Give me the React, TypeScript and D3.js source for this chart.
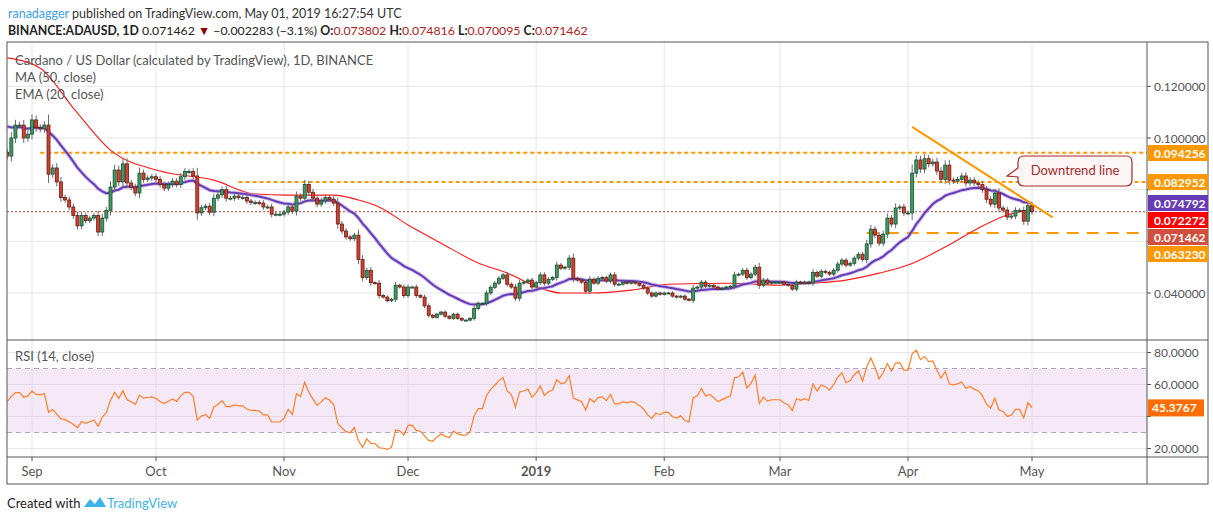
import React from "react";
import * as d3 from "d3";

const startDate = "2018-08-26";
const closes: number[] = [
  0.093, 0.100, 0.105, 0.105, 0.100, 0.1015, 0.107, 0.104, 0.1035, 0.105,
  0.086, 0.0884, 0.083, 0.077, 0.076, 0.0733, 0.070, 0.066, 0.070, 0.068,
  0.069, 0.070, 0.0636, 0.069, 0.072, 0.081, 0.0876, 0.083, 0.090, 0.0826,
  0.081, 0.0787, 0.0864, 0.084, 0.0845, 0.085, 0.084, 0.082, 0.0806, 0.082,
  0.0833, 0.082, 0.085, 0.087, 0.087, 0.0853, 0.071, 0.073, 0.0736, 0.0713,
  0.0767, 0.078, 0.080, 0.0767, 0.0767, 0.0775, 0.077, 0.077, 0.0756, 0.075,
  0.075, 0.0748, 0.0733, 0.0733, 0.0705, 0.0705, 0.0705, 0.0713, 0.0733, 0.0717,
  0.0775,
  0.0767, 0.082, 0.079, 0.0767, 0.0744, 0.0756, 0.077, 0.0763, 0.0748, 0.0667,
  0.064, 0.0617, 0.061, 0.0624, 0.053, 0.046, 0.0488, 0.044, 0.0438, 0.039,
  0.0384, 0.037, 0.0376, 0.043, 0.0423, 0.039, 0.0423, 0.0423, 0.039, 0.0384,
  0.035, 0.0314, 0.0306, 0.0318, 0.0326, 0.031, 0.0302, 0.0318, 0.0302, 0.0295,
  0.0295, 0.0302, 0.034, 0.036, 0.036, 0.040, 0.0422, 0.0438, 0.0457, 0.047,
  0.0434, 0.0423, 0.038, 0.0438, 0.0442, 0.045, 0.0423, 0.044, 0.047, 0.0438,
  0.0453, 0.046, 0.0508, 0.0496, 0.050, 0.0535, 0.0457, 0.045, 0.0442, 0.0407,
  0.0453,
  0.0438, 0.0457, 0.046, 0.0446, 0.047, 0.0434, 0.0434, 0.0442, 0.0438, 0.0442,
  0.0438, 0.043, 0.0419, 0.040, 0.0388, 0.040, 0.0395, 0.040, 0.040, 0.0388,
  0.0384, 0.0388, 0.0376, 0.0372, 0.0419, 0.0423, 0.0442, 0.0426, 0.043, 0.0423,
  0.0415, 0.0419, 0.0423, 0.0426, 0.047, 0.0473, 0.0488, 0.046, 0.0473, 0.050,
  0.043, 0.045, 0.0438, 0.0442, 0.0442, 0.0442, 0.0434, 0.043, 0.0415, 0.0442,
  0.0438, 0.0442, 0.0438, 0.048, 0.0465, 0.0484, 0.048, 0.0473, 0.0488, 0.0512,
  0.0527, 0.0508, 0.0515, 0.0535, 0.055, 0.053, 0.059, 0.0647, 0.0624, 0.0593,
  0.0628,
  0.069, 0.0667, 0.0729, 0.0733, 0.071, 0.071, 0.0864, 0.0915, 0.088, 0.092,
  0.090, 0.0907, 0.0872, 0.084, 0.0895, 0.0837, 0.0833, 0.084, 0.0853, 0.0826,
  0.0837, 0.0826, 0.082, 0.080, 0.0763, 0.0744, 0.0787, 0.0729, 0.0721, 0.0694,
  0.0698, 0.072, 0.072, 0.0678, 0.0738, 0.071462,
];
const firstOpen = 0.0945;

// MA(50) line samples: [candle index, value]
const maIdx = [0, 8, 16, 25, 37, 50, 60, 68, 79, 85, 90, 97, 105, 114, 121, 129, 134, 141, 151, 160, 175, 187, 195, 203, 211, 218, 227, 235, 242, 248];
const maVal = [0.131, 0.127, 0.1116, 0.0953, 0.0872, 0.0837, 0.0783, 0.0779, 0.0779, 0.076, 0.0733, 0.0663, 0.0593, 0.0516, 0.0477, 0.0419, 0.040, 0.040, 0.0411, 0.0434, 0.0438, 0.043, 0.0438, 0.045, 0.0477, 0.0508, 0.0578, 0.0651, 0.0702, 0.0723];

const levelValues = [0.094256, 0.082952];
const levelStartIdx = [8, 56];
const supportValue = 0.06323;
const supportStartIdx = 208;
const trendIdx = [219, 253];
const trendVal = [0.1043, 0.0693];

const priceTicks = [0.04, 0.06, 0.08, 0.1, 0.12];
const rsiTicks = [20, 40, 60, 80];
const monthTicks = ["2018-09-01", "2018-10-01", "2018-11-01", "2018-12-01", "2019-01-01", "2019-02-01", "2019-03-01", "2019-04-01", "2019-05-01"];
const monthLabels = ["Sep", "Oct", "Nov", "Dec", "2019", "Feb", "Mar", "Apr", "May"];

const priceTags = [
  { v: "0.094256", y: 153, bg: "#ff9800" },
  { v: "0.082952", y: 182, bg: "#ff9800" },
  { v: "0.074792", y: 203, bg: "#673ab7" },
  { v: "0.072272", y: 220, bg: "#ff0000" },
  { v: "0.071462", y: 237, bg: "#d24f3f" },
  { v: "0.063230", y: 254, bg: "#ff9800" },
];

const FONT = "Lato, 'Open Sans', sans-serif";

export default function App() {
  const parse = d3.utcParse("%Y-%m-%d");
  const d0 = parse(startDate)!;
  const dateOf = (i: number) => d3.utcDay.offset(d0, i);
  const x = d3.scaleUtc().domain([parse("2018-09-01")!, parse("2019-05-01")!]).range([32, 1032]);
  const xi = (i: number) => x(dateOf(i));
  const y = d3.scaleLinear().domain([0.04, 0.1]).range([293, 138]);
  const yr = d3.scaleLinear().domain([20, 80]).range([448.5, 352.5]);

  const candles = closes.map((c, i) => {
    const o = i === 0 ? firstOpen : closes[i - 1];
    const hi = Math.max(o, c);
    const lo = Math.min(o, c);
    const w = 0.012 + (Math.abs(c - o) / hi) * 0.15;
    return { i, o, c, h: hi * (1 + w), l: lo * (1 - w) };
  });

  const ema: number[] = [];
  const k = 2 / 21;
  closes.forEach((c, i) => ema.push(i === 0 ? 0.1045 : c * k + ema[i - 1] * (1 - k)));

  const rsi: number[] = [];
  let ag = 0.004, al = 0.004;
  closes.forEach((c, i) => {
    const prev = i === 0 ? firstOpen : closes[i - 1];
    const ch = c - prev;
    ag = (ag * 13 + Math.max(ch, 0)) / 14;
    al = (al * 13 + Math.max(-ch, 0)) / 14;
    rsi.push(100 - 100 / (1 + ag / al));
  });

  const emaLine = d3.line<number>().x((_, i) => xi(i)).y((v) => y(v));
  const maLine = d3.line<number>().x((_, i) => xi(maIdx[i])).y((v) => y(v)).curve(d3.curveMonotoneX);
  const rsiLine = d3.line<number>().x((_, i) => xi(i)).y((v) => yr(v));

  const L = 7, R = 1147, RR = 1208, T = 42, P = 340, B = 457, BB = 484;
  const bw = 3;
  const rsiTagY = yr(45.3767);
  const hiddenPrice = (t: number) => priceTags.some((p) => Math.abs(p.y - y(t)) < 14);
  const hiddenRsi = (t: number) => Math.abs(yr(t) - rsiTagY) < 14;

  return (
    <svg width={1213} height={521} style={{ position: "absolute", left: 0, top: 0, fontFamily: FONT }}>
      <rect width={1213} height={521} fill="#fff" />
      <text x={8} y={18} fontSize={12.5} fill="#333">
        <tspan fill="#3ca0e8">ranadagger</tspan> published on TradingView.com, May 01, 2019 16:27:54 UTC
      </text>
      <text x={8} y={35} fontSize={12.3} fill="#222">
        <tspan fontWeight="bold">BINANCE:ADAUSD, 1D</tspan>
        <tspan> 0.071462 </tspan>
        <tspan fill="#8b0000">▼</tspan>
        <tspan> −0.002283 (−3.1%) </tspan>
        <tspan fontWeight="bold">O:</tspan><tspan fill="#b22222">0.073802 </tspan>
        <tspan fontWeight="bold">H:</tspan><tspan fill="#b22222">0.074816 </tspan>
        <tspan fontWeight="bold">L:</tspan><tspan fill="#b22222">0.070095 </tspan>
        <tspan fontWeight="bold">C:</tspan><tspan fill="#b22222">0.071462</tspan>
      </text>

      <defs>
        <clipPath id="mainClip"><rect x={L} y={T} width={R - L} height={P - T} /></clipPath>
        <clipPath id="rsiClip"><rect x={L} y={P} width={R - L} height={B - P} /></clipPath>
      </defs>

      {monthTicks.map((m) => (
        <line key={m} x1={x(parse(m)!)} x2={x(parse(m)!)} y1={T} y2={B} stroke="#e6e6e6" />
      ))}
      {priceTicks.map((t) => (
        <line key={t} x1={L} x2={R} y1={y(t)} y2={y(t)} stroke="#e6e6e6" />
      ))}
      {rsiTicks.map((t) => (
        <line key={t} x1={L} x2={R} y1={yr(t)} y2={yr(t)} stroke="#e6e6e6" />
      ))}

      <rect x={L} y={yr(70)} width={R - L} height={yr(30) - yr(70)} fill="#e1bee7" opacity={0.35} />
      <line x1={L} x2={R} y1={yr(70)} y2={yr(70)} stroke="#b0a4b8" strokeDasharray="5,4" />
      <line x1={L} x2={R} y1={yr(30)} y2={yr(30)} stroke="#b0a4b8" strokeDasharray="5,4" />
      <g clipPath="url(#rsiClip)">
        <path d={rsiLine(rsi)!} fill="none" stroke="#ff7f27" strokeWidth={1.2} />
      </g>

      <g clipPath="url(#mainClip)">
        {levelValues.map((v, i) => (
          <line key={v} x1={xi(levelStartIdx[i])} x2={R} y1={y(v)} y2={y(v)} stroke="#ff9800" strokeWidth={2} strokeDasharray="4,3" />
        ))}
        <line x1={xi(supportStartIdx)} x2={R} y1={y(supportValue)} y2={y(supportValue)} stroke="#ff9800" strokeWidth={2} strokeDasharray="12,8" />
        <line x1={L} x2={R} y1={y(0.071462)} y2={y(0.071462)} stroke="#c0392b" strokeDasharray="2,2" />

        <path d={maLine(maVal)!} fill="none" stroke="#ff1a1a" strokeWidth={1.1} />
        <path d={emaLine(ema)!} fill="none" stroke="#b39ddb" strokeWidth={4} opacity={0.6} />
        <path d={emaLine(ema)!} fill="none" stroke="#673ab7" strokeWidth={2} />

        {candles.map((d) => {
          const up = d.c >= d.o;
          const cx = xi(d.i);
          const top = y(Math.max(d.o, d.c));
          const bot = y(Math.min(d.o, d.c));
          return (
            <g key={d.i}>
              <line x1={cx} x2={cx} y1={y(d.h)} y2={y(d.l)} stroke="#6b6b6b" />
              <rect x={cx - bw / 2} y={top} width={bw} height={Math.max(1, bot - top)}
                fill={up ? "#3c9a62" : "#d2412f"} stroke={up ? "#1f4d33" : "#6a1b12"} strokeWidth={0.8} />
            </g>
          );
        })}

        <line x1={xi(trendIdx[0])} x2={xi(trendIdx[1])} y1={y(trendVal[0])} y2={y(trendVal[1])} stroke="#ff9800" strokeWidth={2} />

        <path d="M1024,156 H1126 Q1132,156 1132,162 V180 Q1132,186 1126,186 H1024 Q1018,186 1018,180 V177 L1007,176 L1018,168 V162 Q1018,156 1024,156 Z"
          fill="#fdf6f6" stroke="#a52a2a" strokeWidth={1.2} />
        <text x={1075} y={175} textAnchor="middle" fontSize={13} fill="#a52a2a">Downtrend line</text>
      </g>

      <text x={15} y={65} fontSize={13} fill="#555">Cardano / US Dollar (calculated by TradingView), 1D, BINANCE</text>
      <text x={15} y={82} fontSize={13} fill="#555">MA (50, close)</text>
      <text x={15} y={99} fontSize={13} fill="#555">EMA (20, close)</text>
      <text x={15} y={361} fontSize={13} fill="#555">RSI (14, close)</text>

      <rect x={L} y={T} width={RR - L} height={BB - T} fill="none" stroke="#555" />
      <line x1={L} x2={RR} y1={P} y2={P} stroke="#555" />
      <line x1={L} x2={RR} y1={B} y2={B} stroke="#555" />
      <line x1={R} x2={R} y1={T} y2={BB} stroke="#555" />

      {priceTicks.map((t) => (
        <g key={t}>
          <line x1={R} x2={R + 4} y1={y(t)} y2={y(t)} stroke="#555" />
          {!hiddenPrice(t) && <text x={R + 7} y={y(t) + 4.5} fontSize={12} fill="#555">{t.toFixed(6)}</text>}
        </g>
      ))}
      {priceTags.map((p) => (
        <g key={p.v}>
          <rect x={R + 1} y={p.y - 8} width={RR - R - 1} height={16} fill={p.bg} />
          <text x={R + 7} y={p.y + 4.5} fontSize={12} fontWeight="bold" fill="#fff">{p.v}</text>
        </g>
      ))}

      {rsiTicks.map((t) => (
        <g key={t}>
          <line x1={R} x2={R + 4} y1={yr(t)} y2={yr(t)} stroke="#555" />
          {!hiddenRsi(t) && <text x={R + 7} y={yr(t) + 4.5} fontSize={12} fill="#555">{t.toFixed(4)}</text>}
        </g>
      ))}
      <rect x={R + 1} y={rsiTagY - 8.5} width={56} height={17} fill="#ff6d00" />
      <text x={R + 5} y={rsiTagY + 4.5} fontSize={12} fontWeight="bold" fill="#fff">45.3767</text>

      {monthTicks.map((m, i) => (
        <g key={m}>
          <line x1={x(parse(m)!)} x2={x(parse(m)!)} y1={B} y2={B + 4} stroke="#555" />
          <text x={x(parse(m)!)} y={B + 19} textAnchor="middle" fontSize={13} fill="#555" fontWeight={i === 4 ? "bold" : "normal"}>{monthLabels[i]}</text>
        </g>
      ))}

      <text x={7} y={508} fontSize={13} fill="#222">Created with</text>
      <path d="M84,507 L90,499 L95,504 L100,497 L106,507 Z" fill="#3cb4e8" />
      <text x={107} y={508} fontSize={13} fill="#3cb4e8">TradingView</text>
    </svg>
  );
}
